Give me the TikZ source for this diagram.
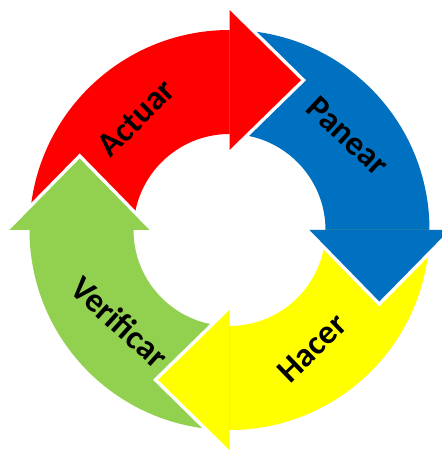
\documentclass[tikz,border=0pt]{standalone}
\usepackage{fontspec}
\setmainfont{Carlito}
\usetikzlibrary{calc}

\definecolor{cycRed}{HTML}{FF0000}
\definecolor{cycBlue}{HTML}{0070C0}
\definecolor{cycYellow}{HTML}{FFFF00}
\definecolor{cycGreen}{HTML}{92D050}

% ring and arrow-head dimensions (pt)
\def\rOut{200}
\def\rIn{96}
\def\hIn{80}
\def\hOut{220}
\def\hTip{166}
\def\hTurn{25.5}

\tikzset{
  steplabel/.style={font=\fontsize{34}{36}\selectfont\bfseries, text=black, inner sep=0pt},
}

% body of one arrow: from tail angle #2 clockwise to head angle #3
\newcommand{\cycbody}[3]{%
  \fill[#1] ($(C)+(#2:\rOut)$) arc[start angle=#2, end angle=#3, radius=\rOut]
    -- ($(C)+(#3:\rIn)$) arc[start angle=#3, end angle=#2, radius=\rIn] -- cycle;}
% head of one arrow: base at angle #2, tip turned clockwise
\newcommand{\cychead}[2]{%
  \draw[white, line width=7pt, line join=miter]
    ($(C)+(#2:\hIn)$) -- ($(C)+(#2-\hTurn:\hTip)$) -- ($(C)+(#2:\hOut)$);
  \fill[#1] ($(C)+(#2:\hIn)$) -- ($(C)+(#2-\hTurn:\hTip)$) -- ($(C)+(#2:\hOut)$) -- cycle;}

\begin{document}
\begin{tikzpicture}[x=1pt, y=1pt]
  \useasboundingbox (0,0) rectangle (442,451);
  \clip (0,0) rectangle (442,451);
  \fill[white] (0,0) rectangle (442,451);
  \coordinate (C) at (229.5,221);

  % arrow bodies
  \cycbody{cycRed}{180}{90}
  \cycbody{cycBlue}{90}{0}
  \cycbody{cycYellow}{0}{-90}
  \cycbody{cycGreen}{270}{180}

  % arrow heads, each laid over the tail of the next arrow
  \cychead{cycRed}{90}
  \cychead{cycBlue}{0}
  \cychead{cycYellow}{-90}
  \cychead{cycGreen}{180}

  % labels
  \node[steplabel, rotate=45]  (actuar)    at (136,333) {Actuar};
  \node[steplabel, rotate=-43] (panear)    at (348,315) {Panear};
  \node[steplabel, rotate=44]  (hacer)     at (312,103) {Hacer};
  \node[steplabel, rotate=-42] (verificar) at (120,129) {Verificar};
\end{tikzpicture}
\end{document}
